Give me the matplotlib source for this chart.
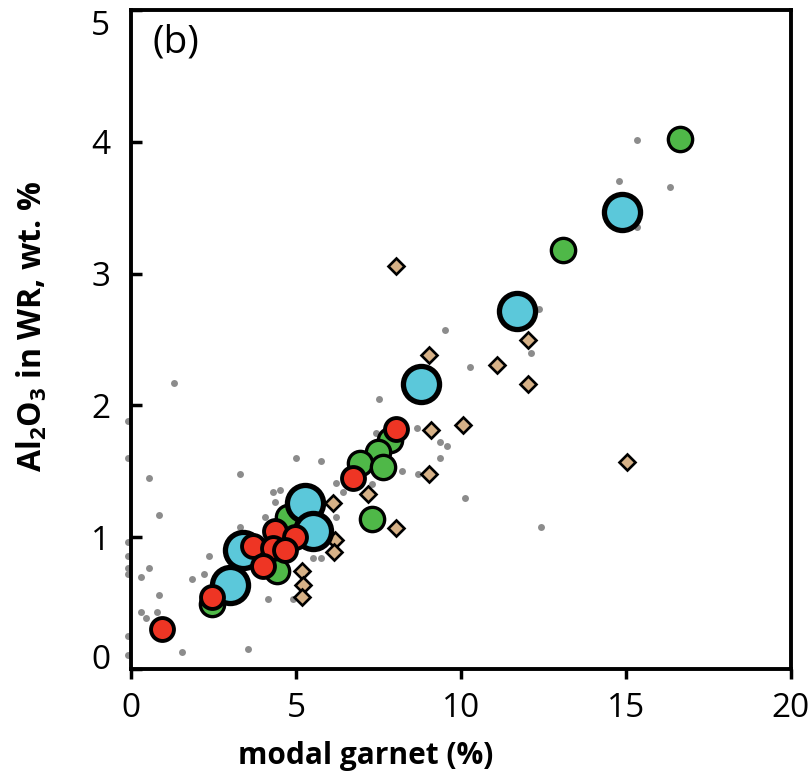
import matplotlib
matplotlib.use("Agg")
import matplotlib.pyplot as plt

plt.rcParams['font.family'] = ['Open Sans', 'DejaVu Sans']
plt.rcParams['mathtext.fontset'] = 'custom'
plt.rcParams['mathtext.bf'] = 'Open Sans:bold'
plt.rcParams['mathtext.rm'] = 'Open Sans'

# literature compilation (small grey dots)
lit_x = [15.34, 14.80, 16.33, 15.34, 12.37, 9.52, 10.27, 12.12, 8.66, 9.36, 9.58, 9.36,
         8.20, 8.71, 10.12, 7.52, 5.75, 6.21, 6.43, 7.29, 12.42, 6.21, 5.52, 5.75, 7.42,
         -0.09, 0.55, 3.30, 4.99, 4.52, 4.29, 4.36, 0.85, 4.06, -0.09, -0.09, -0.09, -0.09,
         0.55, 0.30, 2.37, 2.22, 1.84, 3.30, 0.85, 0.30, 0.47, 0.78, -0.09, -0.09, 1.54,
         3.54, 4.14, 4.90, 1.30, -0.09]
lit_y = [4.01, 3.70, 3.66, 3.35, 2.73, 2.57, 2.29, 2.40, 1.83, 1.72, 1.69, 1.60,
         1.50, 1.48, 1.30, 2.05, 1.58, 1.41, 1.34, 1.40, 1.08, 1.15, 0.84, 0.84, 1.79,
         1.60, 1.45, 1.48, 1.60, 1.36, 1.34, 1.27, 1.17, 1.15, 0.96, 0.86, 0.77, 0.72,
         0.77, 0.70, 0.86, 0.72, 0.68, 1.08, 0.56, 0.43, 0.39, 0.43, 0.25, 0.11, 0.13,
         0.15, 0.53, 0.53, 2.17, 1.88]

# tan diamonds
dia_x = [8.03, 9.04, 12.03, 11.10, 12.03, 9.08, 10.07, 9.04, 15.03, 7.17, 8.02,
         6.12, 6.18, 6.15, 5.17, 5.21, 5.17]
dia_y = [3.06, 2.38, 2.50, 2.31, 2.16, 1.81, 1.85, 1.48, 1.57, 1.33, 1.07,
         1.26, 0.98, 0.89, 0.74, 0.64, 0.55]

# green circles
grn_x = [16.64, 13.10, 7.85, 7.48, 6.94, 7.64, 7.30, 4.41, 2.45, 4.76]
grn_y = [4.02, 3.18, 1.74, 1.65, 1.56, 1.53, 1.14, 0.74, 0.49, 1.15]

# large cyan circles
cyn_x = [14.88, 11.69, 8.78, 5.27, 5.52, 3.39, 3.00]
cyn_y = [3.47, 2.72, 2.16, 1.26, 1.05, 0.90, 0.64]

# red circles
red_x = [8.03, 6.73, 0.95, 2.45, 3.71, 4.36, 4.97, 4.31, 4.67, 3.99]
red_y = [1.82, 1.45, 0.30, 0.55, 0.93, 1.05, 1.00, 0.92, 0.90, 0.78]

fig = plt.figure(figsize=(8.12, 7.82), dpi=100)
ax = fig.add_axes([0.1613, 0.1445, 0.8128, 0.8427])

ax.plot(lit_x, lit_y, 'o', ms=5, color='#8c8c8c', mec='none', clip_on=False, zorder=2)
ax.plot(dia_x, dia_y, 'D', ms=8.5, mfc='#d6b187', mec='black', mew=1.9, zorder=3)
ax.plot(grn_x, grn_y, 'o', ms=17.5, mfc='#4fb848', mec='black', mew=2.4, zorder=4)
ax.plot(cyn_x, cyn_y, 'o', ms=26, mfc='#5bc8da', mec='black', mew=3.8, zorder=5)
ax.plot(red_x, red_y, 'o', ms=16.5, mfc='#ee3524', mec='black', mew=2.8, zorder=6)

ax.set_xlim(0, 20)
ax.set_ylim(0, 5)
ax.set_xticks([0, 5, 10, 15, 20])
ax.set_yticks([0, 1, 2, 3, 4, 5])

for s in ax.spines.values():
    s.set_linewidth(2.8)
ax.tick_params(axis='x', direction='out', length=7.5, width=2.5, labelsize=24, pad=9)
ax.tick_params(axis='y', direction='in', length=8, width=2.5, labelsize=24, pad=15)

# keep the end labels inside the frame
yt = ax.yaxis.get_major_ticks()
yt[0].label1.set_va('baseline')
yt[-1].label1.set_va('top')

ax.text(0.032, 0.98, '(b)', transform=ax.transAxes, fontsize=28, ha='left', va='top')

ax.text(0.355, -0.132, 'modal garnet (%)', transform=ax.transAxes, fontsize=21.5,
        fontweight='bold', ha='center', va='center')
ax.text(-0.15, 0.52, r'$\mathbf{Al_2O_3}$' + ' in WR, wt. %', transform=ax.transAxes,
        fontsize=23, fontweight='bold', rotation=90, ha='center', va='center')

fig.savefig('out.png', dpi=100)
